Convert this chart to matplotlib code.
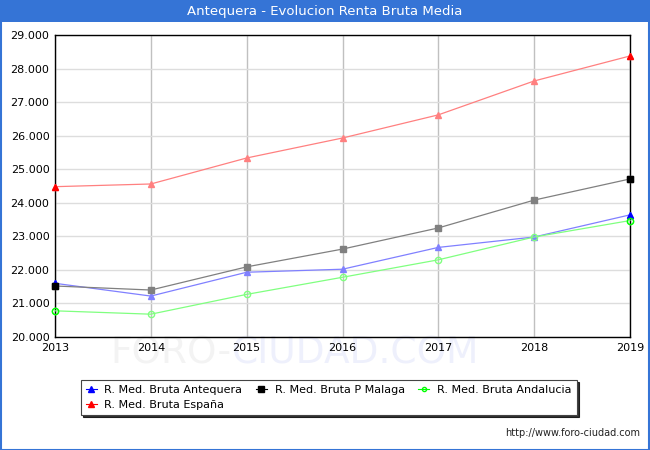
import matplotlib
matplotlib.use("Agg")
from matplotlib import pyplot as plt
from matplotlib.patches import Rectangle
from matplotlib.ticker import FuncFormatter

years = [2013, 2014, 2015, 2016, 2017, 2018, 2019]
antequera = [21600, 21220, 21930, 22020, 22670, 22980, 23640]
malaga = [21520, 21400, 22090, 22620, 23250, 24080, 24710]
andalucia = [20780, 20680, 21270, 21780, 22300, 22980, 23470]
espana = [24480, 24560, 25335, 25930, 26620, 27630, 28375]

series = [
    ("R. Med. Bruta Antequera", antequera, "#0000ff", "#8080ff", "^"),
    ("R. Med. Bruta P Malaga", malaga, "#000000", "#808080", "s"),
    ("R. Med. Bruta Andalucia", andalucia, "#00ff00", "#80ff80", "o"),
    ("R. Med. Bruta España", espana, "#ff0000", "#ff8080", "^"),
]

fig = plt.figure(figsize=(6.5, 4.5), dpi=100)
fig.patch.set_facecolor("white")

# title bar and border
fig.patches.append(Rectangle((0, 428 / 450), 1, 22 / 450, transform=fig.transFigure,
                             facecolor="#3574d6", edgecolor="none", zorder=0))
fig.patches.append(Rectangle((0.001, 0.001), 0.998, 0.998, transform=fig.transFigure,
                             facecolor="none", edgecolor="#3574d6", lw=1.5, zorder=0))
fig.text(0.5, 439 / 450, "Antequera - Evolucion Renta Bruta Media", color="white",
         ha="center", va="center", fontsize=9.5)

# faint watermark, sits behind the x tick labels like in the original
fig.text(232 / 650, 1 - 353 / 450, "FORO-", ha="right", va="center",
         fontsize=27, color="#f3f3f3", zorder=-1)
fig.text(232 / 650, 1 - 353 / 450, "CIUDAD.COM", ha="left", va="center",
         fontsize=27, color="#eef0fc", zorder=-1)

ax = fig.add_axes([55 / 650, 1 - 337 / 450, 575 / 650, 302 / 450])
ax.patch.set_alpha(0)
ax.set_xlim(2013, 2019)
ax.set_ylim(20000, 29000)
ax.set_xticks(years)
ax.set_yticks(range(20000, 29001, 1000))
ax.yaxis.set_major_formatter(FuncFormatter(lambda v, p: f"{int(v):,}".replace(",", ".")))
ax.tick_params(length=0, labelsize=8, pad=4)
ax.xaxis.grid(True, color="#c0c0c0", lw=1)
ax.yaxis.grid(True, color="#dddddd", lw=1)
ax.set_axisbelow(True)
for s in ax.spines.values():
    s.set_color("black")
    s.set_linewidth(1)

handles = {}
for label, vals, dark, light, m in series:
    face = "none" if m == "o" else light
    ax.plot(years, vals, color=light, lw=0.9, marker=m, ms=4.5, mfc=face, mec=light,
            clip_on=False, zorder=3)
    ends = [0, len(years) - 1]
    ax.plot([years[i] for i in ends], [vals[i] for i in ends], ls="none", marker=m, ms=4.5,
            mfc="none" if m == "o" else dark, mec=dark, clip_on=False, zorder=4)
    h, = ax.plot([], [], color=dark, lw=0.8, marker=m, ms=4 if m != "o" else 3,
                 mfc="none" if m == "o" else dark, mec=dark, label=label)
    handles[label] = h

# legend fills columns first, so reorder to get row-wise layout
order = ["R. Med. Bruta Antequera", "R. Med. Bruta España",
         "R. Med. Bruta P Malaga", "R. Med. Bruta Andalucia"]
leg = fig.legend(handles=[handles[k] for k in order], loc="upper left", ncol=3,
                 bbox_to_anchor=(75 / 650, 1 - 374 / 450), fontsize=8, frameon=True,
                 fancybox=False, shadow={"color": "black", "alpha": 0.8}, handlelength=1.0,
                 columnspacing=1.2, handletextpad=0.7, labelspacing=0.45, borderpad=0.45)
leg.get_frame().set_edgecolor("#444444")
leg.get_frame().set_linewidth(0.8)

fig.text(640 / 650, 1 - 433 / 450, "http://www.foro-ciudad.com", ha="right", va="center",
         fontsize=7, color="#222222")

fig.savefig("out.png", dpi=100)
